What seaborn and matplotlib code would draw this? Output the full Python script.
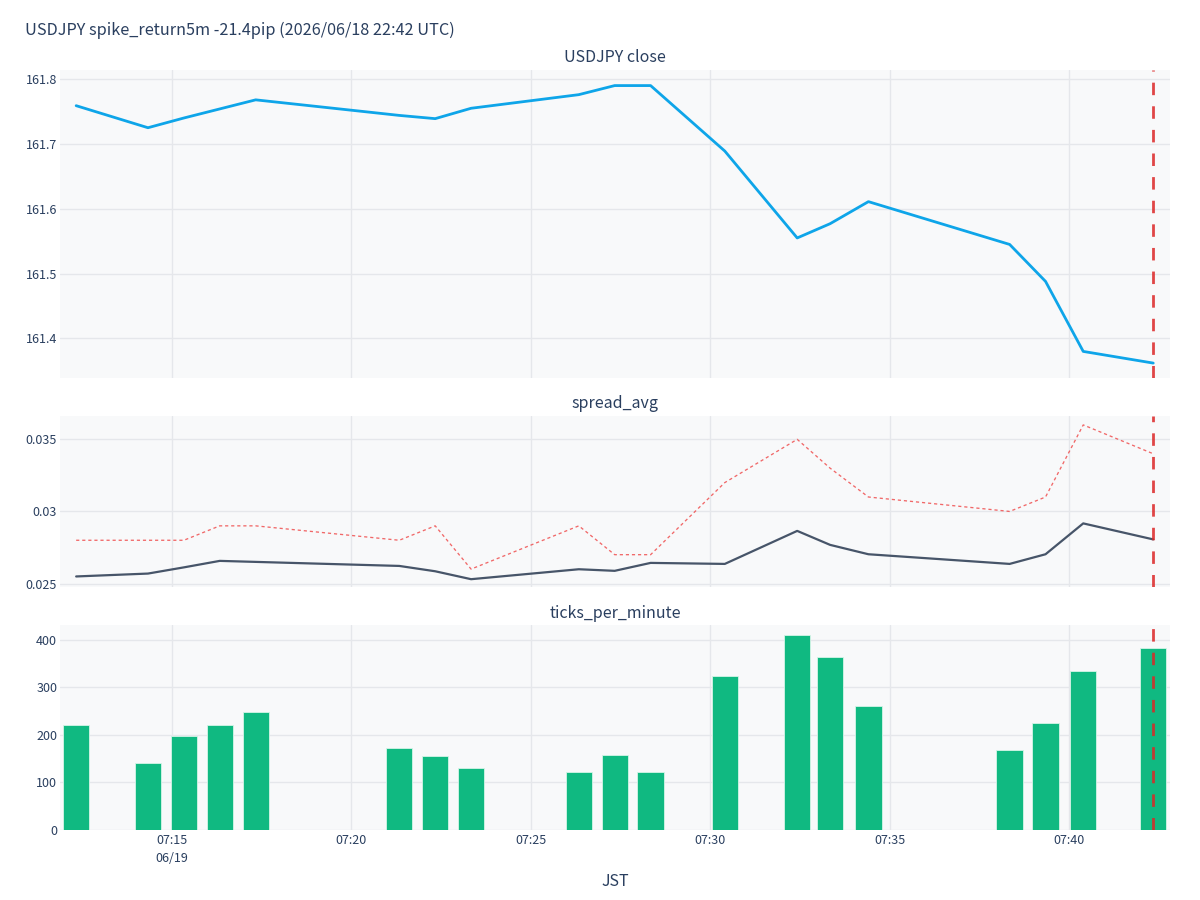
import numpy as np
import pandas as pd
import matplotlib
matplotlib.use("Agg")
import matplotlib.pyplot as plt
import matplotlib.dates as mdates
import seaborn as sns

# --- data (JST, 2026/06/19) ---
day = "2026-06-19"
times = ["07:12:20", "07:14:20", "07:15:20", "07:16:20", "07:17:20", "07:21:20",
         "07:22:20", "07:23:20", "07:26:20", "07:27:20", "07:28:20", "07:30:24",
         "07:32:25", "07:33:20", "07:34:24", "07:38:20", "07:39:20", "07:40:23",
         "07:42:20"]
close = [161.759, 161.725, 161.740, 161.754, 161.768, 161.744, 161.739, 161.755,
         161.776, 161.790, 161.790, 161.689, 161.555, 161.577, 161.611, 161.545,
         161.488, 161.380, 161.362]
spread_avg = [0.02549, 0.02569, 0.02612, 0.02657, 0.02650, 0.02622, 0.02585, 0.02530,
              0.02599, 0.02588, 0.02643, 0.02636, 0.02865, 0.02768, 0.02703, 0.02636,
              0.02703, 0.02917, 0.02806]
spread_max = [0.028, 0.028, 0.028, 0.029, 0.029, 0.028, 0.029, 0.026, 0.029, 0.027,
              0.027, 0.032, 0.035, 0.033, 0.031, 0.030, 0.031, 0.036, 0.034]
ticks_per_minute = [220, 141, 198, 222, 248, 172, 155, 131, 123, 158, 122, 324, 410,
                    364, 261, 168, 226, 334, 384]
event_time = "07:42:20"

x_ticks = ["07:15", "07:20", "07:25", "07:30", "07:35", "07:40"]
close_ticks = [161.4, 161.5, 161.6, 161.7, 161.8]
spread_ticks = [0.025, 0.03, 0.035]
spread_tick_labels = ["0.025", "0.03", "0.035"]
count_ticks = [0, 100, 200, 300, 400]

title = "USDJPY spike_return5m -21.4pip (2026/06/18 22:42 UTC)"

# --- style ---
sns.set_style("whitegrid", {"axes.facecolor": "#f8f9fa", "grid.color": "#e5e7eb",
                            "axes.edgecolor": "#f8f9fa"})
plt.rcParams["font.family"] = ["Noto Sans CJK JP", "DejaVu Sans"]
text_c = "#2a3f5f"

df = pd.DataFrame({
    "t": mdates.date2num(pd.to_datetime([f"{day} {t}" for t in times])),
    "close": close,
    "spread_avg": spread_avg,
    "spread_max": spread_max,
    "ticks": ticks_per_minute,
})
ev = mdates.date2num(pd.Timestamp(f"{day} {event_time}"))
xt = mdates.date2num(pd.to_datetime([f"{day} {t}" for t in x_ticks]))
xlim = mdates.date2num(pd.to_datetime([f"{day} 07:11:53", f"{day} 07:42:48"]))

fig = plt.figure(figsize=(12, 9), dpi=100)
ax1 = fig.add_axes([0.05, 0.58, 0.925, 0.3422])
ax2 = fig.add_axes([0.05, 0.3478, 0.925, 0.19])
ax3 = fig.add_axes([0.05, 0.0778, 0.925, 0.2278])

sns.lineplot(data=df, x="t", y="close", ax=ax1, color="#0ea5e9", lw=2)
sns.lineplot(data=df, x="t", y="spread_max", ax=ax2, color="#ef4444", lw=0.95,
             alpha=0.8, linestyle=(0, (2.4, 2.2)))
sns.lineplot(data=df, x="t", y="spread_avg", ax=ax2, color="#475569", lw=1.6)
sns.barplot(data=df, x="t", y="ticks", ax=ax3, native_scale=True, orient="x",
            color="#10b981", saturation=1, errorbar=None, width=0.8,
            edgecolor="#d5f5e8", linewidth=0.6)

ax1.set_ylim(161.339, 161.814)
ax1.set_yticks(close_ticks)
ax2.set_ylim(0.02476, 0.03662)
ax2.set_yticks(spread_ticks)
ax2.set_yticklabels(spread_tick_labels)
ax3.set_ylim(0, 431.6)
ax3.set_yticks(count_ticks)

for ax in (ax1, ax2, ax3):
    ax.axvline(ev, color="#dc2626", lw=2, alpha=0.85, linestyle=(0, (4.5, 4)))
    ax.set_xlim(*xlim)
    ax.set_xticks(xt)
    ax.set_xlabel("")
    ax.set_ylabel("")
    ax.grid(True, color="#e5e7eb", lw=1)
    ax.set_axisbelow(True)
    for s in ax.spines.values():
        s.set_visible(False)
    ax.tick_params(axis="both", length=0, labelsize=9, labelcolor=text_c)
    ax.tick_params(axis="y", pad=2)

ax1.set_xticklabels([])
ax2.set_xticklabels([])
ax3.set_xticklabels([x_ticks[0] + "\n06/19"] + x_ticks[1:], linespacing=1.5)
ax3.tick_params(axis="x", pad=3)

fig.text(25 / 1200, 1 - 30 / 900, title, ha="left", va="center", fontsize=11.7, color=text_c)
fig.text(0.5125, 1 - 57 / 900, "USDJPY close", ha="center", va="center", fontsize=11.5, color=text_c)
fig.text(0.5125, 1 - 403 / 900, "spread_avg", ha="center", va="center", fontsize=11.5, color=text_c)
fig.text(0.5125, 1 - 613 / 900, "ticks_per_minute", ha="center", va="center", fontsize=11.5, color=text_c)
fig.text(0.5125, 1 - 882 / 900, "JST", ha="center", va="center", fontsize=11.5, color=text_c)

fig.savefig("out.png", dpi=100, facecolor="white")
